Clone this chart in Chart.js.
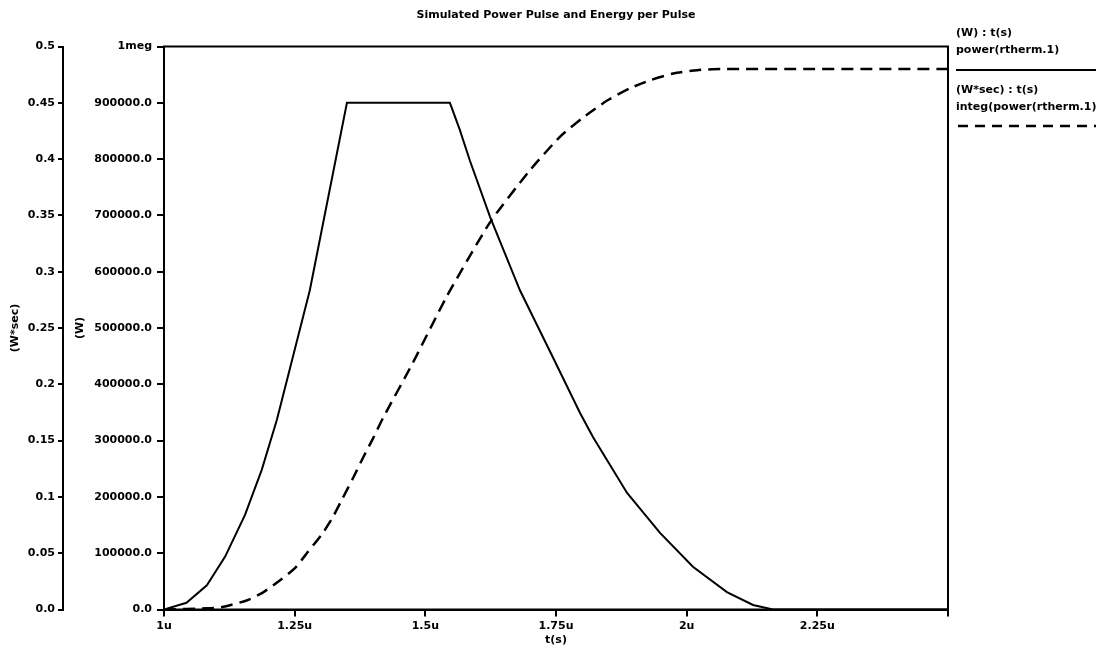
<!DOCTYPE html>
<html><head><meta charset="utf-8">
<script src="https://cdn.jsdelivr.net/npm/chart.js@4/dist/chart.umd.min.js"></script>
<style>
html,body{margin:0;padding:0;background:#fff;}
#wrap{position:relative;width:1096px;height:660px;overflow:hidden;}
#c{position:absolute;left:0;top:0;}
.lg{position:absolute;left:956px;font:bold 11px 'DejaVu Sans',sans-serif;color:#000;white-space:nowrap;line-height:13px;}
#lgsvg{position:absolute;left:0;top:0;}
</style></head><body>
<div id="wrap">
<canvas id="c" width="1096" height="660"></canvas>
<div class="lg" id="u0" style="top:26px"></div>
<div class="lg" id="n0" style="top:43px"></div>
<div class="lg" id="u1" style="top:83px"></div>
<div class="lg" id="n1" style="top:100px"></div>
<svg id="lgsvg" width="1096" height="660">
  <line x1="956" y1="70" x2="1096" y2="70" stroke="#000" stroke-width="2"/>
  <line x1="958" y1="126" x2="1096" y2="126" stroke="#000" stroke-width="2.5" stroke-dasharray="10 7"/>
</svg>
</div>
<script>
// ---- data ----
const chartTitle = 'Simulated Power Pulse and Energy per Pulse';
const seriesNames = ['power(rtherm.1)', 'integ(power(rtherm.1))'];
const seriesUnits = ['(W) : t(s)', '(W*sec) : t(s)'];
const axisTitleX = 't(s)';
const axisTitleW = '(W)';
const axisTitleE = '(W*sec)';

// power pulse: time in microseconds, power in W
const powerTime = [1.000, 1.043, 1.082, 1.117, 1.155, 1.187, 1.216, 1.279, 1.350, 1.547, 1.566, 1.585, 1.624, 1.681, 1.744, 1.796, 1.821, 1.886, 1.949, 2.012, 2.077, 2.127, 2.165, 2.500];
const powerW    = [0, 12000, 43000, 94000, 168000, 248000, 337000, 567000, 900000, 900000, 852000, 798000, 697000, 567000, 448000, 349000, 306000, 207000, 136000, 76000, 31000, 8000, 0, 0];

// energy per pulse: time in microseconds, energy in W*sec
const energyTime = [1.000, 1.082, 1.110, 1.158, 1.189, 1.222, 1.251, 1.275, 1.304, 1.323, 1.342, 1.362, 1.381, 1.400, 1.419, 1.476, 1.541, 1.624, 1.700, 1.758, 1.802, 1.848, 1.892, 1.930, 1.974, 2.020, 2.064, 2.500];
const energyWs   = [0, 0.001, 0.002, 0.008, 0.015, 0.026, 0.037, 0.051, 0.068, 0.082, 0.099, 0.117, 0.135, 0.152, 0.170, 0.219, 0.278, 0.344, 0.390, 0.420, 0.437, 0.452, 0.463, 0.470, 0.476, 0.479, 0.480, 0.480];

// axis ranges / ticks
const xMin = 1, xMax = 2.5, xStep = 0.25;
const wMin = 0, wMax = 1000000, wStep = 100000;
const eMin = 0, eMax = 0.5, eStep = 0.05;

// ---- legend text ----
document.getElementById('u0').textContent = seriesUnits[0];
document.getElementById('n0').textContent = seriesNames[0];
document.getElementById('u1').textContent = seriesUnits[1];
document.getElementById('n1').textContent = seriesNames[1];

const FONT = {family: "'DejaVu Sans', sans-serif", size: 11, weight: 'bold'};
Chart.defaults.font = {...Chart.defaults.font, ...FONT};
Chart.defaults.color = '#000';

const framePlugin = {
  id: 'frame',
  afterDatasetsDraw(chart) {
    const {ctx, chartArea: a} = chart;
    ctx.save();
    ctx.strokeStyle = '#000';
    ctx.lineWidth = 2;
    ctx.strokeRect(a.left, a.top, a.right - a.left, a.bottom - a.top);
    ctx.restore();
  }
};

function fmtE(v) { const r = Math.round(v * 100) / 100; return r === 0 ? '0.0' : String(r); }
function fmtW(v) { if (v >= 1000000) return '1meg'; return (Math.round(v)).toFixed(1); }
function fmtX(v) { if (v >= xMax - 1e-9) return ''; return (Math.round(v * 100) / 100) + 'u'; }

new Chart(document.getElementById('c'), {
  type: 'line',
  data: {
    datasets: [
      {
        label: seriesNames[0],
        data: powerTime.map((t, i) => ({x: t, y: powerW[i]})),
        yAxisID: 'yW',
        borderColor: '#000', borderWidth: 2, pointRadius: 0, tension: 0, fill: false
      },
      {
        label: seriesNames[1],
        data: energyTime.map((t, i) => ({x: t, y: energyWs[i]})),
        yAxisID: 'yE',
        borderColor: '#000', borderWidth: 2.5, borderDash: [12, 7], pointRadius: 0, tension: 0.2, fill: false
      }
    ]
  },
  options: {
    responsive: false,
    animation: false,
    events: [],
    layout: {padding: {left: 0, right: 148, top: 0, bottom: 0}},
    plugins: {
      legend: {display: false},
      tooltip: {enabled: false},
      title: {
        display: true, text: chartTitle, fullSize: false, color: '#000',
        font: FONT, padding: {top: 8.4, bottom: 24.9}
      }
    },
    scales: {
      x: {
        type: 'linear', position: 'bottom', min: xMin, max: xMax,
        ticks: {stepSize: xStep, autoSkip: false, maxRotation: 0, minRotation: 0, padding: 3, color: '#000', font: FONT, callback: fmtX, includeBounds: true},
        grid: {drawOnChartArea: false, drawTicks: true, tickLength: 7, color: '#000', lineWidth: 2},
        border: {display: true, color: '#000', width: 2},
        title: {display: true, text: axisTitleX, color: '#000', font: FONT, padding: {top: 0, bottom: 13}},
        afterFit(s) { s.height = 50.5; }
      },
      yW: {
        type: 'linear', position: 'left', weight: 0, min: wMin, max: wMax,
        ticks: {stepSize: wStep, padding: 5, color: '#000', font: FONT, callback: fmtW},
        grid: {drawOnChartArea: false, drawTicks: true, tickLength: 7, color: '#000', lineWidth: 2},
        border: {display: true, color: '#000', width: 2},
        title: {display: true, text: axisTitleW, color: '#000', font: FONT, padding: {top: 10.4, bottom: 0}},
        afterFit(s) { s.width = 101; }
      },
      yE: {
        type: 'linear', position: 'left', weight: 10, min: eMin, max: eMax,
        ticks: {stepSize: eStep, padding: 3, color: '#000', font: FONT, callback: fmtE},
        grid: {drawOnChartArea: false, drawTicks: true, tickLength: 5, color: '#000', lineWidth: 2},
        border: {display: true, color: '#000', width: 2},
        title: {display: true, text: axisTitleE, color: '#000', font: FONT, padding: {top: 8.4, bottom: 0}},
        afterFit(s) { s.width = 63; }
      }
    }
  },
  plugins: [framePlugin]
});
</script>
</body></html>
